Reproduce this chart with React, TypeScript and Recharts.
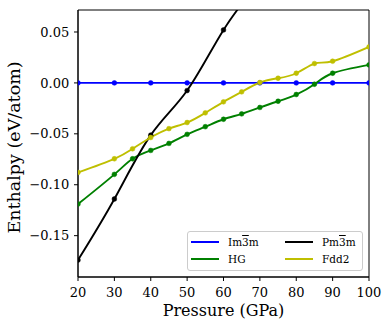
import React from 'react';
import { LineChart, Line, XAxis, YAxis, ReferenceArea, Label, Legend } from 'recharts';

const BLUE = '#0000ff';
const GREEN = '#008000';
const BLACK = '#000000';
const YELLOW = '#bfbf00';
const FONT = '"DejaVu Serif", serif';

const xTicks = [20, 30, 40, 50, 60, 70, 80, 90, 100];
const yTicks = [-0.15, -0.1, -0.05, 0, 0.05];
const yDomain: [number, number] = [-0.1906, 0.0716];

const im3mP = [20, 30, 40, 50, 60, 70, 80, 90, 100];
const im3mH = [0, 0, 0, 0, 0, 0, 0, 0, 0];

const hgP = [20, 30, 35, 40, 45, 50, 55, 60, 65, 70, 75, 80, 85, 90, 100];
const hgH = [-0.119, -0.0898, -0.0745, -0.0663, -0.0594, -0.0505, -0.043, -0.0357, -0.0304, -0.0241, -0.018, -0.0114, -0.0013, 0.0095, 0.0177];

const pm3mP = [20, 30, 40, 50, 60, 70];
const pm3mH = [-0.174, -0.114, -0.0513, -0.0075, 0.052, 0.1];

const fdd2P = [20, 30, 35, 40, 45, 50, 55, 60, 65, 70, 75, 80, 85, 90, 100];
const fdd2H = [-0.0879, -0.0745, -0.0647, -0.0536, -0.0449, -0.0389, -0.0294, -0.0186, -0.0088, 0.0004, 0.0046, 0.0095, 0.019, 0.0213, 0.0353];

const seriesNames = ['Im3m', 'HG', 'Pm3m', 'Fdd2'];

const toRows = (p: number[], h: number[]) => p.map((x, i) => ({ p: x, h: h[i] }));

const series = [
  { name: seriesNames[0], color: BLUE, data: toRows(im3mP, im3mH) },
  { name: seriesNames[1], color: GREEN, data: toRows(hgP, hgH) },
  { name: seriesNames[2], color: BLACK, data: toRows(pm3mP, pm3mH) },
  { name: seriesNames[3], color: YELLOW, data: toRows(fdd2P, fdd2H) },
];

const fmtY = (v: number) => {
  const s = Math.abs(v).toFixed(2);
  return v < -1e-9 ? '\u2212' + s : s;
};

const renderName = (n: string) => {
  const m = /^(.*)(3)(m)$/.exec(n);
  if (!m) return n;
  return (
    <>
      {m[1]}
      <span style={{ textDecoration: 'overline' }}>{m[2]}</span>
      {m[3]}
    </>
  );
};

const LegendBox = (props: any) => {
  const payload = ((props.payload || []) as any[])
    .slice()
    .sort((a, b) => seriesNames.indexOf(String(a.value)) - seriesNames.indexOf(String(b.value)));
  return (
    <div
      style={{
        position: 'relative',
        width: 176,
        height: 40,
        boxSizing: 'border-box',
        border: '1px solid #cccccc',
        borderRadius: 3,
        background: 'rgba(255,255,255,0.8)',
        fontFamily: FONT,
        fontSize: 10.5,
        color: '#000',
      }}
    >
      {payload.map((e: any, i: number) => {
        const col = Math.floor(i / 2);
        const row = i % 2;
        const left = col === 0 ? 3 : 97;
        const cy = row === 0 ? 9.5 : 27;
        return (
          <div key={i}>
            <div
              style={{
                position: 'absolute',
                left,
                top: cy - 1,
                width: 28,
                height: 2,
                background: e.color,
              }}
            />
            <div
              style={{
                position: 'absolute',
                left: left + 37,
                top: cy - 8,
                height: 16,
                lineHeight: '16px',
                whiteSpace: 'nowrap',
              }}
            >
              {renderName(String(e.value))}
            </div>
          </div>
        );
      })}
    </div>
  );
};

const XLabel = (props: any) => {
  const vb = props.viewBox || { x: 78, y: 277, width: 291, height: 53 };
  return (
    <text x={vb.x + vb.width / 2} y={316} textAnchor="middle" fontFamily={FONT} fontSize={16} fill="#000">
      Pressure (GPa)
    </text>
  );
};

const YLabel = (props: any) => {
  const vb = props.viewBox || { x: 0, y: 10, width: 78, height: 267 };
  const cx = 20;
  const cy = vb.y + vb.height / 2 + 4;
  return (
    <text
      x={cx}
      y={cy}
      transform={`rotate(-90, ${cx}, ${cy})`}
      textAnchor="middle"
      fontFamily={FONT}
      fontSize={17.5}
      fill="#000"
    >
      Enthalpy (eV/atom)
    </text>
  );
};

export default function App() {
  return (
    <div style={{ position: 'absolute', left: 0, top: 0, width: 382, height: 330, background: '#fff' }}>
      <LineChart width={382} height={330} margin={{ top: 10, right: 13, bottom: 0, left: 0 }}>
        <XAxis
          dataKey="p"
          type="number"
          domain={[20, 100]}
          ticks={xTicks}
          allowDataOverflow
          height={53}
          tickSize={4}
          tickMargin={6.5}
          axisLine={{ stroke: '#000', strokeWidth: 1 }}
          tickLine={{ stroke: '#000', strokeWidth: 1 }}
          tick={{ fill: '#000', fontFamily: FONT, fontSize: 13 }}
        >
          <Label content={<XLabel />} />
        </XAxis>
        <YAxis
          type="number"
          domain={yDomain}
          ticks={yTicks}
          allowDataOverflow
          width={78}
          tickSize={4}
          tickMargin={4.7}
          tickFormatter={fmtY}
          axisLine={{ stroke: '#000', strokeWidth: 1 }}
          tickLine={{ stroke: '#000', strokeWidth: 1 }}
          tick={{ fill: '#000', fontFamily: FONT, fontSize: 13 }}
        >
          <Label content={<YLabel />} />
        </YAxis>
        <ReferenceArea x1={20} x2={100} y1={yDomain[0]} y2={yDomain[1]} fill="none" stroke="#000" strokeWidth={1} fillOpacity={0} />
        {series.map((s) => (
          <Line
            key={s.name}
            data={s.data}
            dataKey="h"
            name={s.name}
            type="natural"
            stroke={s.color}
            strokeWidth={1.9}
            dot={{ r: 2.4, fill: s.color, stroke: s.color, strokeWidth: 0.5 }}
            activeDot={false}
            isAnimationActive={false}
          />
        ))}
        <Legend
          layout="vertical"
          align="center"
          verticalAlign="middle"
          content={<LegendBox />}
          wrapperStyle={{ left: 187, top: 231, width: 176, height: 40 }}
        />
      </LineChart>
    </div>
  );
}
